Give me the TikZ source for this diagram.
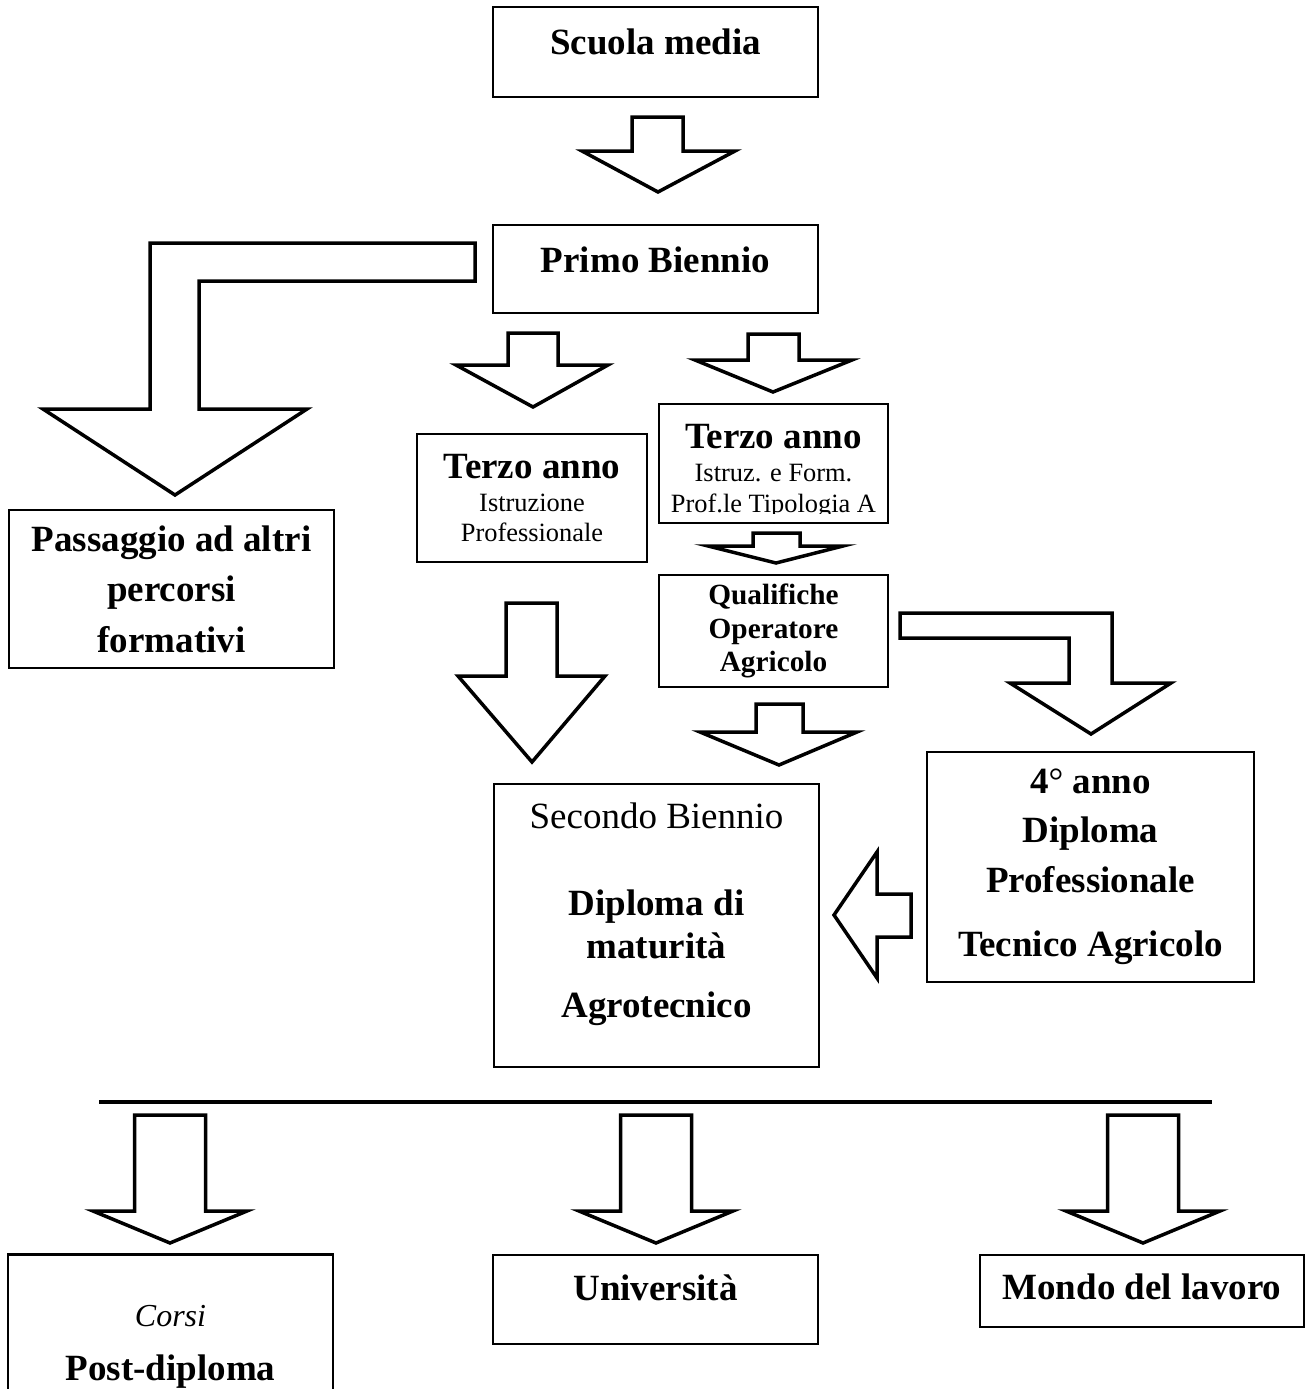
\documentclass[tikz,border=0pt]{standalone}
\usepackage{fontspec}
\setmainfont{Liberation Serif}
\begin{document}
\begin{tikzpicture}[
  x=1pt, y=-1pt,
  box/.style={rectangle, draw, line width=2.2pt, inner sep=0pt, align=center},
  fat/.style={draw, line width=3.5pt, line join=miter, fill=white},
  big/.style={font=\fontsize{37}{44}\selectfont\bfseries}
]
\useasboundingbox (0,0) rectangle (1311,1389);

\node[box, big, minimum width=325pt, minimum height=90pt, text height=26pt, text depth=20pt] (scuola) at (655.5,52) {Scuola media};
\node[box, big, minimum width=325pt, minimum height=88pt, text height=26pt, text depth=20pt] (primo) at (655.5,269) {Primo Biennio};
\node[box, font=\fontsize{37}{50.5}\selectfont\bfseries, minimum width=325pt, minimum height=158pt] (passaggio) at (171.5,589) {Passaggio ad altri\\percorsi\\formativi};
\node[box, font=\fontsize{26.4}{30.5}\selectfont, minimum width=230pt, minimum height=128pt] (terzoip) at (532,498) {{\fontsize{37}{44}\selectfont\bfseries Terzo anno}\\[2.5pt]Istruzione\\Professionale};
\node[box, minimum width=229pt, minimum height=119pt] (terzoifp) at (773.5,463.5) {};
\begin{scope}
  \clip (terzoifp.north west) rectangle ([yshift=11pt]terzoifp.south east);
  \node[font=\fontsize{26.4}{30.5}\selectfont, align=center] (terzoifptxt) at (773.5,471.4) {{\fontsize{37}{44}\selectfont\bfseries Terzo anno}\\[2.5pt]Istruz. e Form.\\Prof.le Tipologia A};
\end{scope}
\node[box, font=\fontsize{29.3}{33.5}\selectfont\bfseries, minimum width=229pt, minimum height=112pt] (qualifiche) at (773.5,631) {Qualifiche\\Operatore\\Agricolo};
\node[box, font=\fontsize{37}{43}\selectfont\bfseries, minimum width=325pt, minimum height=283pt] (secondo) at (656.5,925.5) {{\mdseries Secondo Biennio}\\[44pt]Diploma di\\maturità\\[16pt]Agrotecnico\\[-12pt]\mbox{}};
\node[box, font=\fontsize{37}{49.5}\selectfont\bfseries, minimum width=327pt, minimum height=230pt] (quarto) at (1090.5,867) {4{\mdseries °} anno\\Diploma\\Professionale\\[15pt]Tecnico Agricolo};
\node[box, big, minimum width=325pt, minimum height=184pt] (postdiploma) at (170.5,1346.5) {{\mdseries\itshape\fontsize{32}{36}\selectfont Corsi}\\[10pt]Post-diploma};
\node[box, big, minimum width=325pt, minimum height=89pt, text height=26pt, text depth=25pt] (universita) at (655.5,1299.5) {Università};
\node[box, big, minimum width=324pt, minimum height=72pt, text height=26pt, text depth=10pt] (lavoro) at (1142,1291) {Mondo del lavoro};

\draw[fat] (632,117) -- (683,117) -- (683,151) -- (735,151) -- (658,192) -- (582,151) -- (632,151) -- cycle;
\draw[fat] (475,243) -- (150,243) -- (150,409) -- (43,409) -- (175,495) -- (307,409) -- (199,409) -- (199,281) -- (475,281) -- cycle;
\draw[fat] (508,333) -- (558,333) -- (558,365) -- (608,365) -- (533,407) -- (456,365) -- (508,365) -- cycle;
\draw[fat] (748,334) -- (799,334) -- (799,360) -- (852,360) -- (773,392) -- (695,360) -- (748,360) -- cycle;
\draw[fat] (753,533) -- (800,533) -- (800,546) -- (843,546) -- (776,563) -- (708,546) -- (753,546) -- cycle;
\draw[fat] (506,603) -- (557,603) -- (557,676) -- (605,676) -- (532,762) -- (458,676) -- (506,676) -- cycle;
\draw[fat] (756,704) -- (803,704) -- (803,732) -- (857,732) -- (779,765) -- (700,732) -- (756,732) -- cycle;
\draw[fat] (900,613) -- (1112,613) -- (1112,683) -- (1171,683) -- (1091,734) -- (1010,683) -- (1069,683) -- (1069,638) -- (900,638) -- cycle;
\draw[fat] (911,894) -- (877,894) -- (877,852) -- (834,915) -- (877,978) -- (877,937) -- (911,937) -- cycle;

\coordinate (rulel) at (99,1102);
\coordinate (ruler) at (1212,1102);
\draw[line width=4pt] (rulel) -- (ruler);
\foreach \c in {170,656,1143}
  \draw[fat] (\c-35.5,1115) -- (\c+35.5,1115) -- (\c+35.5,1211) -- (\c+77,1211) -- (\c,1243) -- (\c-77,1211) -- (\c-35.5,1211) -- cycle;
\end{tikzpicture}
\end{document}
